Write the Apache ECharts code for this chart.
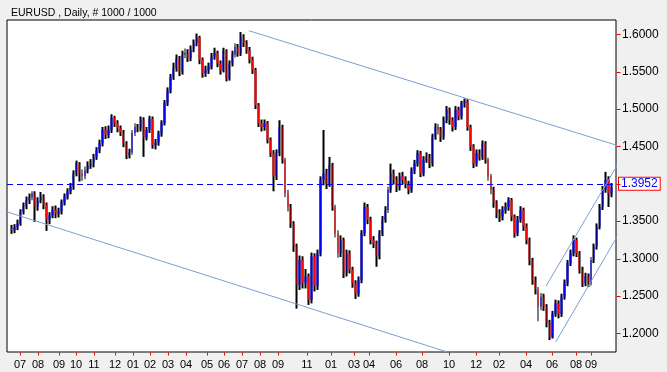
<!DOCTYPE html>
<html><head><meta charset="utf-8">
<script src="https://cdn.jsdelivr.net/npm/echarts@6/dist/echarts.min.js"></script>
<style>html,body{margin:0;padding:0;background:#f0f0f0;}#c{width:667px;height:372px;}</style>
</head><body><div id="c"></div>
<script>
const chartTitle = 'EURUSD , Daily, # 1000 / 1000';

const opens = [
1.340,1.338,1.342,1.347,1.363,1.370,1.378,1.382,1.387,1.369,
1.378,1.383,1.372,1.352,1.358,1.365,1.360,1.363,1.375,1.383,
1.390,1.396,1.414,1.427,1.414,1.410,1.418,1.425,1.427,1.436,
1.445,1.454,1.472,1.465,1.472,1.488,1.481,1.474,1.469,1.454,
1.438,1.442,1.468,1.476,1.474,1.486,1.462,1.472,1.487,1.452,
1.455,1.467,1.481,1.508,1.525,1.543,1.555,1.568,1.550,1.573,
1.575,1.568,1.580,1.588,1.596,1.566,1.548,1.552,1.557,1.570,
1.575,1.561,1.552,1.578,1.541,1.561,1.573,1.583,1.575,1.597,
1.588,1.579,1.566,1.552,1.505,1.481,1.476,1.481,1.459,1.441,
1.410,1.441,1.476,1.432,1.387,1.369,1.347,1.316,1.265,1.298,
1.267,1.276,1.245,1.303,1.263,1.307,1.405,1.414,1.400,1.425,
1.369,1.334,1.307,1.325,1.280,1.307,1.285,1.267,1.253,1.271,
1.334,1.369,1.352,1.325,1.320,1.303,1.334,1.352,1.365,1.392,
1.414,1.405,1.396,1.410,1.405,1.400,1.392,1.418,1.427,1.441,
1.414,1.432,1.436,1.427,1.463,1.476,1.472,1.463,1.485,1.499,
1.485,1.476,1.499,1.490,1.508,1.510,1.476,1.450,1.427,1.441,
1.436,1.454,1.432,1.410,1.392,1.374,1.361,1.356,1.365,1.369,
1.378,1.356,1.334,1.352,1.365,1.343,1.325,1.298,1.271,1.258,
1.236,1.249,1.236,1.214,1.195,1.226,1.240,1.226,1.249,1.267,
1.294,1.307,1.325,1.307,1.285,1.267,1.276,1.267,1.298,1.316,
1.343,1.369,1.392,1.405,1.387];

const closes = [
1.338,1.342,1.347,1.363,1.370,1.378,1.382,1.387,1.369,1.378,
1.383,1.372,1.352,1.358,1.365,1.360,1.363,1.375,1.383,1.390,
1.396,1.414,1.427,1.414,1.410,1.418,1.425,1.427,1.436,1.445,
1.454,1.472,1.465,1.472,1.488,1.481,1.474,1.469,1.454,1.438,
1.442,1.468,1.476,1.474,1.486,1.462,1.472,1.487,1.452,1.455,
1.467,1.481,1.508,1.525,1.543,1.555,1.568,1.550,1.573,1.575,
1.568,1.580,1.588,1.596,1.566,1.548,1.552,1.557,1.570,1.575,
1.561,1.552,1.578,1.541,1.561,1.573,1.583,1.575,1.597,1.588,
1.579,1.566,1.552,1.505,1.481,1.476,1.481,1.459,1.441,1.410,
1.441,1.476,1.432,1.387,1.369,1.347,1.316,1.265,1.298,1.267,
1.276,1.245,1.303,1.263,1.307,1.405,1.414,1.400,1.425,1.369,
1.334,1.307,1.325,1.280,1.307,1.285,1.267,1.253,1.271,1.334,
1.369,1.352,1.325,1.320,1.303,1.334,1.352,1.365,1.392,1.414,
1.405,1.396,1.410,1.405,1.400,1.392,1.418,1.427,1.441,1.414,
1.432,1.436,1.427,1.463,1.476,1.472,1.463,1.485,1.499,1.485,
1.476,1.499,1.490,1.508,1.510,1.476,1.450,1.427,1.441,1.436,
1.454,1.432,1.410,1.392,1.374,1.361,1.356,1.365,1.369,1.378,
1.356,1.334,1.352,1.365,1.343,1.325,1.298,1.271,1.258,1.236,
1.249,1.236,1.214,1.195,1.226,1.240,1.226,1.249,1.267,1.294,
1.307,1.325,1.307,1.285,1.267,1.276,1.267,1.298,1.316,1.343,
1.369,1.392,1.405,1.387,1.3952];

const highs = [
1.345,1.346,1.352,1.366,1.375,1.383,1.387,1.390,1.390,1.382,
1.389,1.386,1.375,1.362,1.370,1.371,1.368,1.379,1.387,1.394,
1.401,1.418,1.431,1.429,1.419,1.423,1.430,1.433,1.440,1.449,
1.459,1.476,1.477,1.478,1.493,1.491,1.485,1.478,1.472,1.457,
1.447,1.472,1.481,1.480,1.490,1.489,1.476,1.491,1.490,1.460,
1.471,1.485,1.512,1.529,1.547,1.562,1.573,1.571,1.578,1.581,
1.580,1.585,1.593,1.601,1.598,1.569,1.558,1.562,1.575,1.582,
1.578,1.565,1.582,1.580,1.565,1.578,1.588,1.587,1.603,1.600,
1.592,1.583,1.570,1.555,1.508,1.486,1.486,1.484,1.462,1.445,
1.446,1.485,1.479,1.435,1.392,1.373,1.350,1.320,1.304,1.303,
1.286,1.280,1.308,1.307,1.312,1.410,1.472,1.420,1.436,1.428,
1.372,1.338,1.331,1.328,1.312,1.311,1.289,1.271,1.276,1.338,
1.375,1.373,1.356,1.330,1.324,1.338,1.357,1.370,1.396,1.427,
1.419,1.410,1.415,1.416,1.410,1.404,1.422,1.432,1.445,1.444,
1.437,1.442,1.440,1.467,1.481,1.480,1.476,1.490,1.504,1.502,
1.489,1.504,1.503,1.511,1.514,1.513,1.479,1.453,1.446,1.446,
1.458,1.457,1.435,1.413,1.396,1.378,1.366,1.370,1.375,1.382,
1.381,1.359,1.357,1.370,1.368,1.347,1.328,1.301,1.276,1.262,
1.254,1.253,1.239,1.218,1.230,1.245,1.244,1.253,1.272,1.298,
1.312,1.331,1.328,1.310,1.289,1.281,1.280,1.302,1.320,1.347,
1.373,1.397,1.416,1.410,1.401];

const lows = [
1.333,1.334,1.338,1.344,1.359,1.366,1.373,1.378,1.349,1.364,
1.374,1.366,1.337,1.346,1.354,1.354,1.355,1.359,1.371,1.379,
1.386,1.392,1.410,1.403,1.404,1.406,1.414,1.420,1.422,1.432,
1.441,1.450,1.460,1.461,1.468,1.476,1.469,1.464,1.449,1.433,
1.434,1.439,1.464,1.469,1.470,1.436,1.458,1.468,1.447,1.446,
1.451,1.463,1.478,1.504,1.521,1.539,1.550,1.544,1.546,1.568,
1.563,1.564,1.576,1.584,1.560,1.542,1.543,1.547,1.553,1.566,
1.556,1.546,1.549,1.537,1.538,1.557,1.569,1.570,1.571,1.583,
1.574,1.561,1.547,1.500,1.476,1.470,1.471,1.454,1.436,1.390,
1.405,1.437,1.427,1.382,1.363,1.341,1.309,1.233,1.258,1.260,
1.260,1.238,1.240,1.256,1.258,1.303,1.398,1.393,1.396,1.364,
1.328,1.301,1.302,1.274,1.276,1.280,1.261,1.246,1.249,1.267,
1.330,1.346,1.319,1.314,1.289,1.299,1.330,1.348,1.361,1.388,
1.399,1.389,1.391,1.399,1.394,1.386,1.388,1.413,1.423,1.409,
1.410,1.428,1.421,1.423,1.459,1.466,1.456,1.459,1.481,1.479,
1.470,1.472,1.485,1.486,1.502,1.471,1.444,1.421,1.423,1.431,
1.432,1.427,1.404,1.386,1.368,1.354,1.349,1.351,1.360,1.364,
1.350,1.328,1.330,1.348,1.337,1.319,1.291,1.265,1.252,1.216,
1.231,1.230,1.208,1.191,1.193,1.222,1.220,1.222,1.245,1.263,
1.290,1.303,1.302,1.280,1.262,1.263,1.262,1.264,1.294,1.312,
1.339,1.365,1.388,1.369,1.382];

const monthLabels = ['07','08','09','10','11','12','01','02','03','04','05','06','07','08','09','11','01','03','04','06','08','10','12','02','04','06','08','09'];
const monthBars = [3,9,16,22,28,35,41,47,53,59,66,72,78,84,90,100,108,116,121,130,139,148,157,165,174,183,191,196];

const priceTicks = [1.20,1.25,1.30,1.35,1.40,1.45,1.50,1.55,1.60];
const lastPrice = 1.3952;

// trend lines: [barIndex, price] endpoints
const channelUpper = [[80.3,1.6048],[205.5,1.4506]];
const channelLower = [[-1.5,1.3625],[147.4,1.175]];
const risingUpper = [[180.86,1.2633],[207.54,1.4425]];
const risingLower = [[184.1,1.1884],[204.8,1.3288]];

// ---------- build ----------
const N = closes.length;
const PAD = 1;
const YMIN = 1.175, YMAX = 1.6191;
const cats = [];
for (let i = 0; i < N + 2 * PAD; i++) cats.push(String(i));

const wickData = [], bodyData = [];
for (let i = 0; i < PAD; i++) { wickData.push('-'); bodyData.push('-'); }
for (let i = 0; i < N; i++) {
  wickData.push([lows[i], highs[i], lows[i], highs[i]]);
  const lo = Math.min(opens[i], closes[i]), hi = Math.max(opens[i], closes[i]);
  bodyData.push([opens[i], closes[i], lo, hi]);
}
for (let i = 0; i < PAD; i++) { wickData.push('-'); bodyData.push('-'); }

const lineColor = '#7b9fd2';
function trend(pts, clip) {
  return { type: 'line', xAxisIndex: 1, yAxisIndex: 0, data: pts, symbol: 'none', clip: clip,
    silent: true, animation: false, z: 5, lineStyle: { color: lineColor, width: 1 } };
}
const XMAX = N - 0.5;
function tickSeries(points, dx, dy) {
  return { type: 'custom', xAxisIndex: 1, yAxisIndex: 0, data: points, clip: false, silent: true, z: 6,
    renderItem: (params, api) => {
      const p = api.coord([api.value(0), api.value(1)]);
      const x = Math.round(p[0]) + 0.5, y = Math.round(p[1]) + 0.5;
      return { type: 'line', shape: { x1: x, y1: y, x2: x + dx, y2: y + dy },
        style: { stroke: '#ff0000', lineWidth: 1 } };
    } };
}
const monthLabelSeries = {
  type: 'custom', xAxisIndex: 1, yAxisIndex: 0, clip: false, silent: true, z: 6,
  data: monthBars.map((b, j) => [b, YMIN, j]),
  renderItem: (params, api) => {
    const p = api.coord([api.value(0), api.value(1)]);
    return { type: 'text', x: Math.round(p[0]), y: Math.round(p[1]) + 7,
      style: { text: monthLabels[api.value(2)], fill: '#000', font: '11px "Liberation Sans"',
        align: 'center', verticalAlign: 'top' } };
  }
};

const chart = echarts.init(document.getElementById('c'), null, { renderer: 'canvas' });
chart.setOption({
  animation: false,
  backgroundColor: '#f0f0f0',
  title: { text: chartTitle, left: 6, top: 3,
    textStyle: { fontFamily: 'Liberation Sans', fontSize: 10.5, fontWeight: 'normal', color: '#000' } },
  grid: { left: 7, right: 51, top: 20, bottom: 20, show: true, backgroundColor: '#fff', borderColor: '#000', borderWidth: 1 },
  xAxis: [{
    type: 'category', data: cats, boundaryGap: true,
    axisLine: { show: false, onZero: false }, axisTick: { show: false }, axisLabel: { show: false },
    splitLine: { show: false }
  }, {
    type: 'value', min: -PAD - 0.5, max: XMAX, show: false
  }],
  yAxis: {
    type: 'value', position: 'right', min: YMIN, max: YMAX,
    axisLine: { show: false, onZero: false },
    splitLine: { show: false },
    axisTick: { show: false },
    axisLabel: { show: true, customValues: priceTicks, formatter: (v) => Number(v).toFixed(4), margin: 6,
      fontFamily: 'Liberation Sans', fontSize: 12, color: '#000' }
  },
  series: [
    { type: 'candlestick', name: 'range', data: wickData, barWidth: 2.4, z: 2, silent: true,
      itemStyle: { color: '#000', color0: '#000', borderColor: '#000', borderColor0: '#000', borderWidth: 0 } },
    { type: 'candlestick', name: 'body', data: bodyData, barWidth: 2, z: 3, silent: true,
      itemStyle: { color: '#0000ff', color0: '#ff0000', borderColor: '#0000ff', borderColor0: '#ff0000', borderWidth: 0 },
      markLine: { symbol: 'none', silent: true, animation: false,
        lineStyle: { color: '#0000ff', type: [6, 4], width: 1 },
        label: { show: true, position: 'end', distance: 3, formatter: () => lastPrice.toFixed(4),
          fontFamily: 'Liberation Sans', fontSize: 12, color: '#0000ff', backgroundColor: '#fff',
          borderColor: '#ff0000', borderWidth: 1, padding: [0, 2, 0, 2] },
        data: [{ yAxis: lastPrice }] } },
    trend(channelUpper, true),
    trend(channelLower, true),
    trend(risingUpper, false),
    trend(risingLower, true),
    tickSeries(priceTicks.map(v => [XMAX, v]), 4, 0),
    tickSeries(monthBars.map(b => [b, YMIN]), 0, 3),
    monthLabelSeries
  ]
});
</script></body></html>
